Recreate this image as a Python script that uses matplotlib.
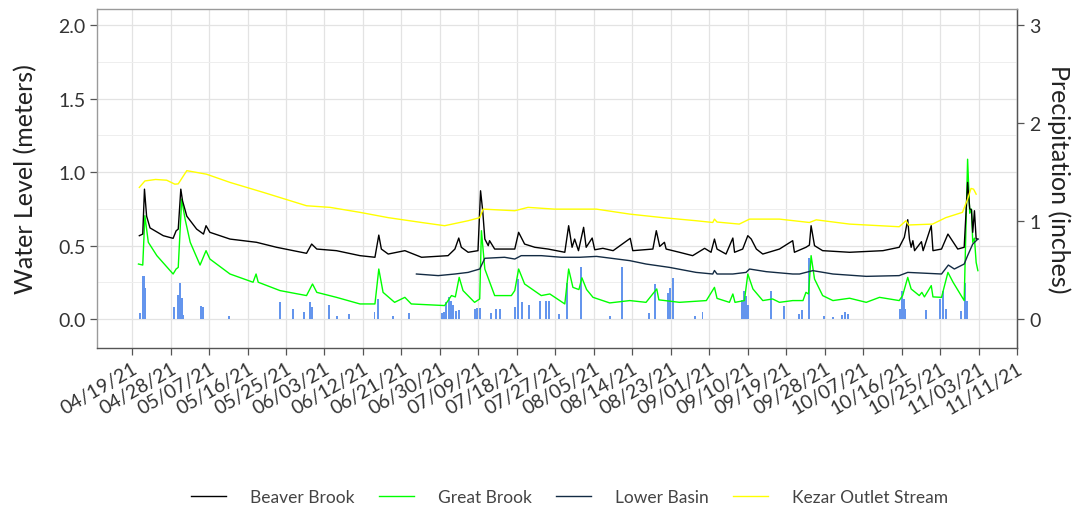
import pandas as pd
import matplotlib
matplotlib.use('Agg')
from matplotlib import pyplot as plt
from matplotlib.ticker import MultipleLocator

plt.rcParams['font.family'] = ['Lato', 'DejaVu Sans']

# days counted from 04/19/21
start = pd.Timestamp('2021-04-19')

beaver_days = [1.7, 2.5, 2.9, 3.4, 4.2, 7.3, 9.6, 10.3, 10.8, 11.4,
               11.8, 12.8, 15.1, 16.7, 17.3, 18.2, 22.9, 29.1, 33.8, 40.8,
               42.0, 43.2, 47.8, 53.3, 56.8, 57.7, 58.3, 59.9, 63.8, 67.7,
               73.9, 75.5, 76.4, 77.0, 78.6, 80.9, 81.5, 82.0, 82.5, 83.3,
               83.6, 84.8, 89.5, 90.4, 91.8, 94.2, 97.3, 101.2, 102.1, 102.9,
               103.5, 104.4, 105.6, 106.2, 107.6, 108.2, 110.1, 112.5, 116.5, 117.1,
               121.8, 122.6, 123.4, 124.5, 124.9, 128.0, 131.1, 133.9, 135.4, 136.2,
               136.8, 138.9, 140.5, 140.9, 142.8, 144.0, 144.8, 146.0, 147.5, 151.4,
               154.5, 154.9, 157.6, 158.4, 158.8, 159.6, 161.5, 167.8, 175.6, 179.4,
               180.6, 181.4, 181.8, 182.2, 182.6, 183.0, 184.6, 185.0, 186.9, 187.3,
               189.3, 190.8, 193.1, 194.6, 195.4, 195.9, 196.3, 196.6, 197.0, 197.4,
               197.8]
beaver_level = [0.567, 0.578, 0.884, 0.70, 0.62, 0.567, 0.549, 0.60, 0.612, 0.884,
                0.805, 0.70, 0.612, 0.578, 0.635, 0.59, 0.544, 0.522, 0.488, 0.447,
                0.51, 0.476, 0.465, 0.431, 0.42, 0.571, 0.476, 0.442, 0.465, 0.42,
                0.431, 0.476, 0.551, 0.488, 0.454, 0.465, 0.873, 0.737, 0.544, 0.499,
                0.533, 0.476, 0.476, 0.59, 0.51, 0.488, 0.476, 0.454, 0.635, 0.488,
                0.544, 0.465, 0.624, 0.488, 0.551, 0.471, 0.481, 0.465, 0.549, 0.465,
                0.476, 0.601, 0.494, 0.522, 0.476, 0.454, 0.431, 0.481, 0.454, 0.544,
                0.476, 0.442, 0.551, 0.454, 0.476, 0.567, 0.544, 0.476, 0.442, 0.476,
                0.533, 0.454, 0.488, 0.503, 0.635, 0.499, 0.465, 0.454, 0.465, 0.488,
                0.556, 0.676, 0.544, 0.488, 0.533, 0.465, 0.526, 0.465, 0.635, 0.465,
                0.476, 0.578, 0.476, 0.488, 0.93, 0.75, 0.744, 0.59, 0.737, 0.544,
                0.544]

great_days = [1.5, 2.5, 3.0, 3.8, 5.8, 9.6, 10.3, 10.8, 11.6, 12.4,
              13.6, 15.9, 17.3, 18.2, 22.9, 28.3, 29.0, 29.5, 34.6, 40.8,
              42.2, 43.2, 47.8, 53.3, 56.8, 57.7, 58.7, 61.4, 63.8, 65.3,
              73.1, 74.7, 75.6, 76.5, 77.4, 80.1, 81.3, 81.7, 82.5, 84.8,
              88.7, 89.5, 90.4, 91.8, 95.7, 97.7, 101.2, 102.1, 103.1, 104.5,
              105.2, 106.3, 107.8, 111.7, 116.4, 120.2, 122.7, 123.2, 128.0, 134.3,
              136.2, 136.8, 139.7, 140.5, 141.0, 143.2, 144.0, 145.2, 147.5, 149.8,
              151.4, 154.5, 156.9, 157.6, 158.2, 158.8, 159.6, 161.5, 163.9, 167.8,
              171.7, 174.8, 179.4, 180.2, 181.4, 182.2, 184.1, 184.7, 185.3, 186.9,
              187.3, 189.3, 190.8, 192.0, 194.6, 195.4, 195.9, 196.3, 196.6, 197.0,
              197.4, 197.8]
great_level = [0.374, 0.367, 0.703, 0.522, 0.431, 0.306, 0.34, 0.351, 0.816, 0.68,
               0.522, 0.367, 0.465, 0.408, 0.306, 0.25, 0.306, 0.25, 0.193, 0.159,
               0.238, 0.181, 0.147, 0.102, 0.102, 0.34, 0.181, 0.113, 0.147, 0.102,
               0.091, 0.159, 0.15, 0.283, 0.193, 0.113, 0.136, 0.601, 0.34, 0.159,
               0.159, 0.193, 0.34, 0.238, 0.159, 0.17, 0.102, 0.34, 0.215, 0.2,
               0.28, 0.2, 0.147, 0.109, 0.125, 0.113, 0.204, 0.13, 0.113, 0.125,
               0.215, 0.14, 0.113, 0.17, 0.113, 0.125, 0.306, 0.204, 0.125, 0.136,
               0.113, 0.125, 0.125, 0.181, 0.17, 0.431, 0.272, 0.159, 0.125, 0.141,
               0.113, 0.147, 0.125, 0.159, 0.283, 0.204, 0.159, 0.181, 0.15, 0.227,
               0.15, 0.147, 0.317, 0.25, 0.125, 1.088, 0.72, 0.748, 0.522, 0.55,
               0.385, 0.329]

lower_days = [66.5, 71.6, 75.5, 78.6, 81.3, 82.5, 87.1, 89.5, 91.0, 95.7,
              100.4, 104.7, 108.6, 116.4, 120.2, 125.7, 131.9, 135.8, 136.2, 136.8,
              140.5, 143.6, 144.4, 148.3, 154.5, 156.1, 159.2, 163.9, 171.7, 179.4,
              181.4, 189.3, 190.9, 192.3, 194.6, 195.4, 196.6, 197.8]
lower_level = [0.306, 0.295, 0.306, 0.317, 0.34, 0.413, 0.42, 0.408, 0.431, 0.431,
               0.42, 0.42, 0.426, 0.397, 0.374, 0.351, 0.317, 0.306, 0.33, 0.306,
               0.306, 0.317, 0.34, 0.322, 0.306, 0.306, 0.329, 0.306, 0.29, 0.295,
               0.317, 0.306, 0.367, 0.34, 0.374, 0.431, 0.51, 0.544]

kezar_days = [1.7, 3.0, 5.5, 8.1, 10.0, 10.8, 12.8, 17.4, 22.9, 30.7,
              40.8, 46.3, 53.3, 59.9, 67.7, 73.1, 78.6, 81.3, 82.1, 89.5,
              92.6, 98.8, 108.6, 116.4, 124.1, 131.9, 135.8, 136.2, 136.8, 142.0,
              144.4, 151.4, 158.4, 160.0, 167.8, 179.4, 181.0, 181.6, 187.2, 190.3,
              194.2, 195.4, 196.2, 196.8, 197.4]
kezar_level = [0.896, 0.94, 0.95, 0.945, 0.918, 0.92, 1.01, 0.986, 0.93, 0.862,
               0.771, 0.76, 0.726, 0.69, 0.657, 0.635, 0.669, 0.69, 0.748, 0.737,
               0.76, 0.748, 0.748, 0.714, 0.69, 0.669, 0.657, 0.68, 0.66, 0.646,
               0.68, 0.68, 0.657, 0.675, 0.646, 0.628, 0.669, 0.64, 0.646, 0.69,
               0.726, 0.816, 0.889, 0.884, 0.85]

precip_days = [1.9, 2.45, 2.8, 3.1, 9.8, 10.7, 11.2, 11.6, 11.9, 16.2,
               16.7, 22.7, 34.6, 37.7, 40.2, 41.6, 42.1, 46.0, 48.0, 50.8,
               56.7, 57.5, 61.1, 64.7, 72.4, 72.9, 73.5, 74.1, 74.5, 75.0,
               75.7, 76.4, 80.1, 80.6, 81.4, 83.9, 85.2, 86.0, 89.5, 90.3,
               91.3, 92.8, 95.4, 96.7, 97.6, 99.8, 101.8, 104.9, 111.8, 114.6,
               120.9, 122.4, 125.3, 125.7, 126.5, 131.7, 133.4, 142.7, 143.1, 143.5,
               144.0, 149.4, 152.4, 156.0, 156.7, 158.2, 161.8, 163.9, 166.1, 166.8,
               167.5, 179.6, 180.0, 180.5, 180.8, 185.6, 189.0, 189.7, 190.3, 193.9,
               194.7, 195.2]
precip_in = [0.06, 0.44, 0.44, 0.32, 0.125, 0.24, 0.367, 0.21, 0.04, 0.136,
             0.12, 0.03, 0.17, 0.10, 0.07, 0.17, 0.12, 0.14, 0.03, 0.05,
             0.07, 0.2, 0.03, 0.06, 0.06, 0.07, 0.17, 0.22, 0.18, 0.14,
             0.08, 0.09, 0.1, 0.11, 0.11, 0.06, 0.1, 0.1, 0.12, 0.41,
             0.17, 0.14, 0.18, 0.18, 0.18, 0.05, 0.37, 0.53, 0.03, 0.53,
             0.06, 0.36, 0.27, 0.32, 0.42, 0.03, 0.07, 0.19, 0.29, 0.23,
             0.14, 0.29, 0.136, 0.05, 0.09, 0.62, 0.03, 0.02, 0.04, 0.07,
             0.05, 0.1, 0.29, 0.2, 0.1, 0.09, 0.2, 0.29, 0.1, 0.08,
             0.37, 0.18]

tick_labels = ['04/19/21', '04/28/21', '05/07/21', '05/16/21', '05/25/21', '06/03/21',
               '06/12/21', '06/21/21', '06/30/21', '07/09/21', '07/18/21', '07/27/21',
               '08/05/21', '08/14/21', '08/23/21', '09/01/21', '09/10/21', '09/19/21',
               '09/28/21', '10/07/21', '10/16/21', '10/25/21', '11/03/21', '11/11/21']

precip_scale = 1.5  # inches per meter on the secondary axis


def to_dates(days):
    return start + pd.to_timedelta(days, unit='D')


fig = plt.figure(figsize=(10.73, 5.10), dpi=100)
ax = fig.add_axes([0.0904, 0.316, 0.8576, 0.664])

grid_c = '#e3e3e3'
ax.yaxis.set_major_locator(MultipleLocator(0.5))
ax.yaxis.set_minor_locator(MultipleLocator(0.25))
ax.grid(True, which='major', color=grid_c, linewidth=0.9)
ax.grid(True, which='minor', axis='y', color='#eeeeee', linewidth=0.7)
ax.set_axisbelow(True)

ax.bar(to_dates(precip_days), [p / precip_scale for p in precip_in],
       width=pd.Timedelta(hours=11), color='#6495ED', zorder=2)

ax.plot(to_dates(great_days), great_level, color='#00FF00', lw=1.0, zorder=3, label='Great Brook')
ax.plot(to_dates(beaver_days), beaver_level, color='black', lw=1.0, zorder=4, label='Beaver Brook')
ax.plot(to_dates(lower_days), lower_level, color='#132B43', lw=1.0, zorder=4, label='Lower Basin')
ax.plot(to_dates(kezar_days), kezar_level, color='#FFFF00', lw=1.0, zorder=5, label='Kezar Outlet Stream')

ax.set_xlim(to_dates([-8.2])[0], to_dates([206.8])[0])
ax.set_ylim(-0.197, 2.11)

tick_pos = pd.date_range(start, periods=len(tick_labels), freq='9D')
ax.set_xticks(tick_pos)
ax.set_xticklabels(tick_labels, rotation=30, ha='right', va='top', rotation_mode='anchor')
ax.set_yticks([0.0, 0.5, 1.0, 1.5, 2.0])
ax.set_yticklabels(['0.0', '0.5', '1.0', '1.5', '2.0'])

for s in ax.spines.values():
    s.set_color('#9a9a9a')
    s.set_linewidth(1.0)
ax.spines['bottom'].set_color('#555555')
ax.spines['right'].set_color('#555555')
ax.tick_params(axis='both', which='major', colors='#555555', length=5, width=0.9,
               labelsize=14, labelcolor='#333333', pad=3)
ax.tick_params(axis='y', which='minor', length=0)

ax.set_ylabel('Water Level (meters)', fontsize=18, color='#222222', labelpad=15)

sec = ax.secondary_yaxis('right', functions=(lambda v: v * precip_scale, lambda v: v / precip_scale))
sec.set_yticks([0, 1, 2, 3])
sec.set_yticklabels(['0', '1', '2', '3'])
sec.tick_params(colors='#555555', length=5, width=0.9, labelsize=14, labelcolor='#333333')
sec.spines['right'].set_color('#555555')
sec.set_ylabel('Precipitation (inches)', fontsize=18, color='#222222', rotation=270, labelpad=22)

handles, labels = ax.get_legend_handles_labels()
order = ['Beaver Brook', 'Great Brook', 'Lower Basin', 'Kezar Outlet Stream']
hmap = dict(zip(labels, handles))
leg = fig.legend([hmap[k] for k in order], order, loc='center', bbox_to_anchor=(0.531, 0.024),
                 ncol=4, frameon=False, fontsize=12.5, handlelength=2.0, handletextpad=1.4,
                 columnspacing=1.4)
for t in leg.get_texts():
    t.set_color('#444444')

fig.savefig('out.png', dpi=100)
plt.close()
